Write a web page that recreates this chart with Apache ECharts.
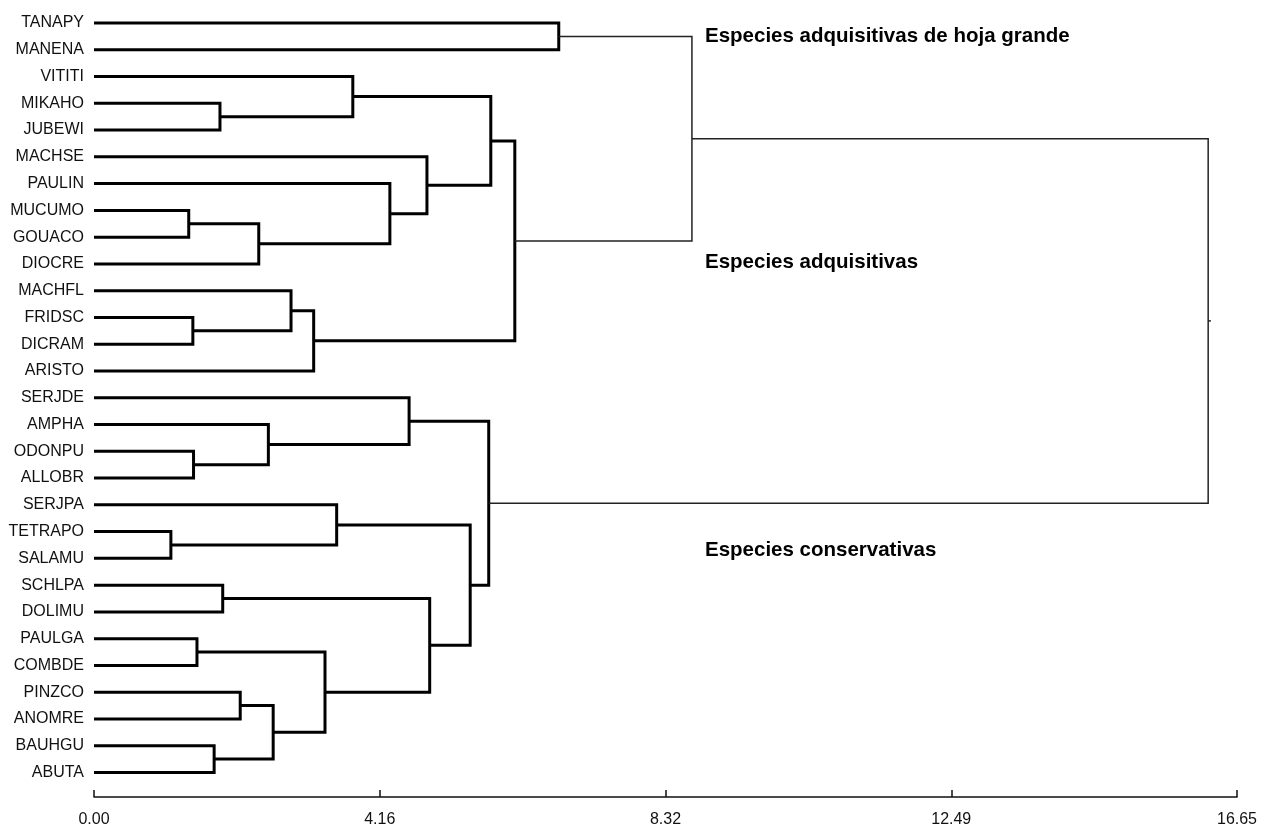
<!DOCTYPE html>
<html>
<head>
<meta charset="utf-8">
<title>Dendrograma</title>
<script src="https://cdn.jsdelivr.net/npm/echarts@6/dist/echarts.min.js"></script>
<style>
  html, body { margin: 0; padding: 0; background: #fff; }
  #main { width: 1280px; height: 831px; }
</style>
</head>
<body>
<div id="main"></div>
<script>
// hojas, de arriba a abajo
const leaves = [
  "TANAPY", "MANENA", "VITITI", "MIKAHO", "JUBEWI", "MACHSE", "PAULIN",
  "MUCUMO", "GOUACO", "DIOCRE", "MACHFL", "FRIDSC", "DICRAM", "ARISTO",
  "SERJDE", "AMPHA", "ODONPU", "ALLOBR", "SERJPA", "TETRAPO", "SALAMU",
  "SCHLPA", "DOLIMU", "PAULGA", "COMBDE", "PINZCO", "ANOMRE", "BAUHGU", "ABUTA"
];

// uniones: [hijo izq, hijo der, distancia]; nodo nuevo = 29 + posicion
const linkage = [
  [19, 20, 1.12],  // 29
  [7, 8, 1.38],    // 30
  [11, 12, 1.44],  // 31
  [16, 17, 1.45],  // 32
  [23, 24, 1.50],  // 33
  [27, 28, 1.75],  // 34
  [3, 4, 1.835],   // 35
  [21, 22, 1.875], // 36
  [25, 26, 2.13],  // 37
  [30, 9, 2.40],   // 38
  [15, 32, 2.54],  // 39
  [37, 34, 2.61],  // 40
  [10, 31, 2.87],  // 41
  [41, 13, 3.20],  // 42
  [33, 40, 3.365], // 43
  [18, 29, 3.535], // 44
  [2, 35, 3.77],   // 45
  [6, 38, 4.31],   // 46
  [14, 39, 4.59],  // 47
  [5, 46, 4.85],   // 48
  [36, 43, 4.89],  // 49
  [44, 49, 5.48],  // 50
  [47, 50, 5.75],  // 51
  [45, 48, 5.78],  // 52
  [52, 42, 6.13],  // 53
  [0, 1, 6.77],    // 54
  [54, 53, 8.71],  // 55
  [55, 51, 16.23]  // 56
];

// las dos ultimas uniones van con linea fina
const thinFrom = 8;

const tickLabels = ["0.00", "4.16", "8.32", "12.49", "16.65"];
const axisMax = 16.65;

const groups = [
  { text: "Especies adquisitivas de hoja grande", top: 36 },
  { text: "Especies adquisitivas", top: 262 },
  { text: "Especies conservativas", top: 550 }
];

// posicion (altura, y) de cada nodo
const nodeH = leaves.map(function() { return 0; });
const nodeY = leaves.map(function(_, i) { return i; });
const linkData = [];
for (var i = 0; i < linkage.length; i++) {
  var a = linkage[i][0], b = linkage[i][1], h = linkage[i][2];
  linkData.push([nodeH[a], nodeY[a], nodeH[b], nodeY[b], h, h > thinFrom ? 1 : 0]);
  nodeH.push(h);
  nodeY.push((nodeY[a] + nodeY[b]) / 2);
}
const rootIdx = linkData.length - 1;

var myChart = echarts.init(document.getElementById("main"));
const font = '"Liberation Sans", Arial, sans-serif';

const option = {
  backgroundColor: "#fff",
  animation: false,
  grid: { left: 94, right: 43, top: 23, bottom: 58.5 },
  xAxis: {
    type: "value",
    position: "bottom",
    min: 0,
    max: axisMax,
    interval: axisMax / 4,
    offset: 24.5,
    axisLine: { show: true, onZero: false, lineStyle: { color: "#111", width: 1.5 } },
    axisTick: { show: true, inside: true, length: 7, lineStyle: { color: "#111", width: 1.5 } },
    splitLine: { show: false },
    axisLabel: {
      margin: 15,
      fontSize: 16,
      fontFamily: font,
      color: "#111",
      formatter: function(v, idx) { return tickLabels[idx]; }
    }
  },
  yAxis: {
    type: "value",
    inverse: true,
    min: 0,
    max: leaves.length - 1,
    interval: 1,
    axisLine: { show: false },
    axisTick: { show: false },
    splitLine: { show: false },
    axisLabel: {
      margin: 10,
      fontSize: 16,
      fontFamily: font,
      color: "#111",
      formatter: function(v) { return leaves[Math.round(v)] || ""; }
    }
  },
  series: [
    {
      type: "custom",
      clip: false,
      data: linkData,
      renderItem: function(params, api) {
        var lh = api.value(0), ly = api.value(1), rh = api.value(2), ry = api.value(3);
        var m = api.value(4), thin = api.value(5) === 1;
        var pts = [api.coord([lh, ly]), api.coord([m, ly]), api.coord([m, ry]), api.coord([rh, ry])];
        var style = {
          fill: null,
          stroke: thin ? "#222" : "#000",
          lineWidth: thin ? 1.5 : 3,
          lineJoin: "miter"
        };
        var children = [{ type: "polyline", shape: { points: pts }, style: style }];
        if (params.dataIndex === rootIdx) {
          // pequeño tramo de la raiz
          var my = (ly + ry) / 2;
          children.push({
            type: "polyline",
            shape: { points: [api.coord([m, my]), api.coord([m + 0.04, my])] },
            style: style
          });
        }
        return { type: "group", children: children };
      }
    }
  ],
  graphic: groups.map(function(g) {
    return {
      type: "text",
      x: 705,
      y: g.top,
      style: {
        text: g.text,
        font: "bold 20.5px " + font,
        fill: "#000",
        verticalAlign: "middle"
      }
    };
  })
};
myChart.setOption(option);
</script>
</body>
</html>
